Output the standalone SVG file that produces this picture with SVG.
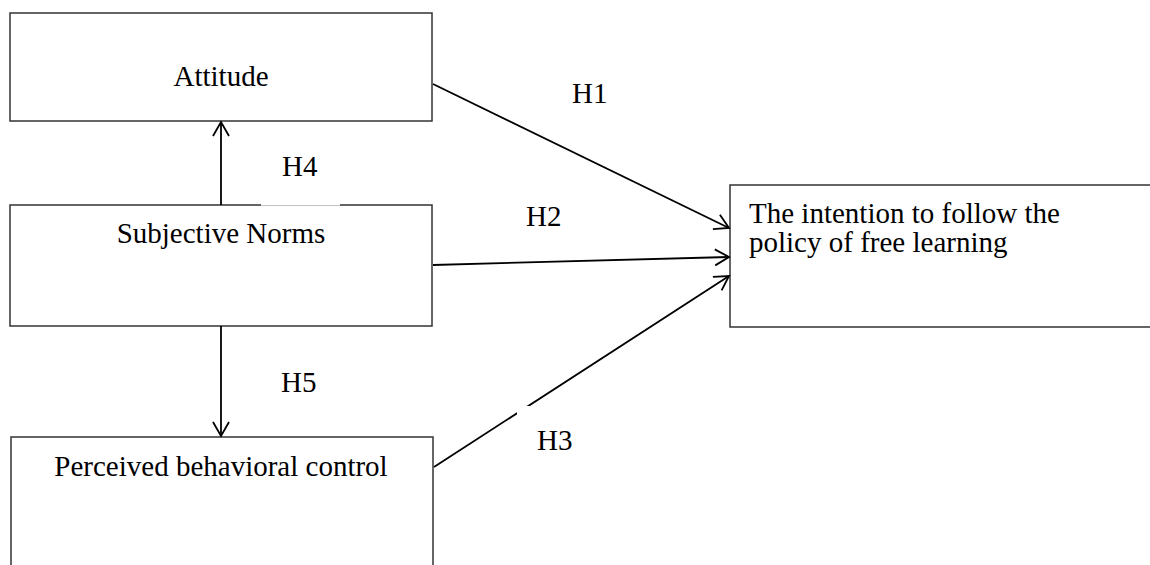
<svg xmlns="http://www.w3.org/2000/svg" width="1150" height="565" viewBox="0 0 1150 565">
<style>
.box{fill:#fff;stroke:#333;stroke-width:1.5}
.t{font-family:"Liberation Serif","Times New Roman",serif;font-size:29px;fill:#000}
.c{stroke:#000;stroke-width:1.8;fill:none;marker-end:url(#arr)}
.bg{fill:#fff}
</style>
<defs>
<marker id="arr" markerUnits="userSpaceOnUse" markerWidth="18" markerHeight="20" viewBox="0 0 18 20" refX="15" refY="10" orient="auto">
<path d="M1,2 L15,10 L1,18" fill="none" stroke="#000" stroke-width="1.8"/>
</marker>
</defs>
<rect width="1150" height="565" fill="#fff"/>
<g id="attitude">
<rect class="box" x="10" y="13" width="422" height="108"/>
<text class="t" x="221" y="86" text-anchor="middle">Attitude</text>
</g>
<g id="subjective-norms">
<rect class="box" x="10" y="205" width="422" height="121"/>
<text class="t" x="221" y="243" text-anchor="middle">Subjective Norms</text>
</g>
<g id="perceived-behavioral-control">
<rect class="box" x="11" y="437" width="422" height="160"/>
<text class="t" x="221" y="476" text-anchor="middle">Perceived behavioral control</text>
</g>
<g id="intention">
<rect class="box" x="730" y="185" width="460" height="142"/>
<text class="t" x="749" y="223">The intention to follow the</text>
<text class="t" x="749" y="252">policy of free learning</text>
</g>
<g id="connectors">
<line class="c" x1="433" y1="84" x2="729" y2="228"/>
<line class="c" x1="433" y1="265" x2="729" y2="257"/>
<line class="c" x1="434" y1="467" x2="729" y2="276"/>
<line class="c" x1="221" y1="205" x2="221" y2="122"/>
<line class="c" x1="221" y1="326" x2="221" y2="436"/>
<rect class="bg" x="261" y="150" width="79" height="55.6"/>
<rect class="bg" x="517" y="406" width="90" height="52"/>
<text class="t" x="572" y="103">H1</text>
<text class="t" x="526" y="226">H2</text>
<text class="t" x="537" y="450">H3</text>
<text class="t" x="282" y="176">H4</text>
<text class="t" x="281" y="392">H5</text>
</g>
</svg>
